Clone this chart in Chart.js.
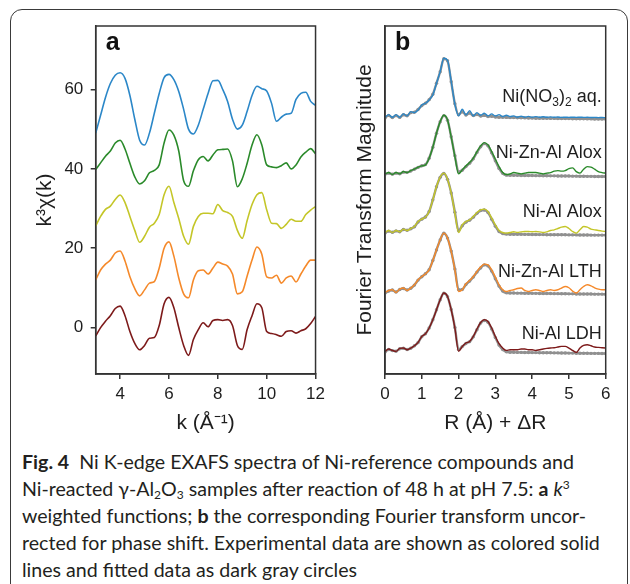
<!DOCTYPE html>
<html>
<head>
<meta charset="utf-8">
<script src="https://cdn.jsdelivr.net/npm/chart.js@4.4.1/dist/chart.umd.min.js"></script>
<style>
  html, body { margin: 0; padding: 0; background: #fff; }
  body { width: 630px; height: 584px; position: relative; overflow: hidden; }
  #frame { position: absolute; left: 10px; top: 9px; width: 618px; height: 640px;
           border: 1px solid #3a3a3a; border-radius: 12px; box-sizing: border-box; }
  #wrapA { position: absolute; left: 29px; top: 0; }
  #wrapB { position: absolute; left: 349px; top: 0; }
  #caption { position: absolute; left: 22px; top: 448px; white-space: nowrap;
             font-family: Lato, "Open Sans", sans-serif; font-size: 19.6px; line-height: 27px;
             color: #231f20; }
  #caption b { font-weight: 700; }
  #caption sub { font-size: 12px; vertical-align: -3px; line-height: 0; }
  #caption sup { font-size: 12px; vertical-align: 7px; line-height: 0; }
</style>
</head>
<body>
<div id="frame"></div>
<div id="wrapA"><canvas id="chartA" width="301" height="440"></canvas></div>
<div id="wrapB"><canvas id="chartB" width="281" height="440"></canvas></div>
<div id="caption">
<b>Fig. 4</b>&nbsp; Ni K-edge EXAFS spectra of Ni-reference compounds and<br>
Ni-reacted γ-Al<sub>2</sub>O<sub>3</sub> samples after reaction of 48 h at pH 7.5: <b>a</b> <i>k</i><sup>3</sup><br>
weighted functions; <b>b</b> the corresponding Fourier transform uncor-<br>
rected for phase shift. Experimental data are shown as colored solid<br>
lines and fitted data as dark gray circles
</div>
<script>
// panel a: k^3 weighted chi(k), curves already offset as in the figure
const kValues = [3.0, 3.2, 3.4, 3.6, 3.8, 4.0, 4.2, 4.4, 4.6, 4.8, 5.0, 5.2, 5.4, 5.6, 5.8, 6.0,
  6.2, 6.4, 6.6, 6.8, 7.0, 7.2, 7.4, 7.6, 7.8, 8.0, 8.2, 8.4, 8.6, 8.8, 9.0, 9.2, 9.4, 9.6,
  9.8, 10.0, 10.2, 10.4, 10.6, 10.8, 11.0, 11.2, 11.4, 11.6, 11.8, 12.0];
const chiNitrate = [49.0, 53.5, 58.0, 61.5, 63.6, 64.2, 62.8, 58.5, 52.5, 47.2, 46.0, 49.0, 54.0, 59.0, 63.0, 63.8,
  62.5, 59.5, 55.0, 50.0, 48.8, 51.0, 55.0, 59.0, 62.2, 62.3, 60.0, 57.0, 52.5, 50.0, 51.0, 54.5, 58.5, 60.8,
  60.2, 59.6, 56.5, 52.0, 53.0, 53.8, 54.0, 57.5, 59.0, 59.3, 57.0, 56.0];
const chiNiZnAlAlox = [39.8, 41.5, 43.2, 44.5, 46.5, 47.2, 45.0, 41.4, 38.0, 36.2, 37.0, 39.0, 39.6, 41.0, 46.5, 49.8,
  48.5, 44.5, 37.0, 35.6, 39.5, 42.3, 43.1, 42.0, 43.5, 44.8, 44.9, 45.0, 42.0, 35.5, 37.5, 41.4, 46.0, 48.6,
  46.0, 41.0, 40.5, 40.3, 40.8, 41.5, 40.0, 41.0, 43.0, 44.2, 45.1, 43.8];
const chiNiAlAlox = [25.6, 28.0, 29.8, 30.6, 32.3, 33.4, 31.5, 28.0, 24.5, 21.5, 23.0, 25.3, 26.3, 28.5, 33.5, 35.6,
  31.5, 27.5, 23.0, 21.0, 25.5, 28.0, 28.8, 28.8, 28.7, 31.0, 29.5, 29.0, 28.0, 24.5, 22.5, 27.0, 31.0, 33.5,
  34.0, 29.7, 26.3, 26.2, 25.0, 26.0, 27.3, 26.8, 26.8, 28.5, 29.6, 30.5];
const chiNiZnAlLTH = [12.0, 14.5, 16.0, 17.0, 18.8, 19.3, 16.8, 12.8, 9.8, 8.0, 9.5, 11.2, 11.6, 15.0, 20.0, 21.6,
  18.0, 12.5, 8.5, 7.5, 12.0, 14.3, 14.5, 13.5, 15.0, 16.5, 16.0, 15.5, 13.5, 8.5, 9.0, 13.0, 17.0, 20.3,
  18.5, 12.8, 12.5, 13.2, 11.2, 12.5, 13.0, 11.5, 13.5, 15.5, 17.0, 17.0];
const chiNiAlLDH = [-2.1, 0.0, 1.6, 3.0, 4.8, 5.4, 3.0, -1.0, -4.0, -5.6, -4.5, -2.7, -2.5, 0.5, 6.0, 7.6,
  5.0, 0.0, -4.5, -7.0, -3.0, -0.5, 1.2, 0.2, 1.8, 2.0, 1.8, 2.0, 0.5, -4.5, -5.5, -0.5, 3.0, 6.0,
  5.0, -1.0, -1.5, -1.8, -2.2, -1.0, -0.8, -1.4, -0.8, -0.3, 1.0, 2.8];
const kTicks = [4, 6, 8, 10, 12];
const chiTicks = [0, 20, 40, 60];

// panel b: Fourier transform magnitude (arbitrary units, stacked), experiment and fit
const rValues = [0.0, 0.1, 0.2, 0.3, 0.4, 0.5, 0.6, 0.7, 0.8, 0.9, 1.0, 1.1, 1.2, 1.3, 1.4, 1.5, 1.6, 1.7, 1.8, 1.9,
  2.0, 2.1, 2.2, 2.3, 2.4, 2.5, 2.6, 2.7, 2.8, 2.9, 3.0, 3.1, 3.2, 3.3, 3.4, 3.5, 3.6, 3.7, 3.8, 3.9,
  4.0, 4.1, 4.2, 4.3, 4.4, 4.5, 4.6, 4.7, 4.8, 4.9, 5.0, 5.1, 5.2, 5.3, 5.4, 5.5, 5.6, 5.7, 5.8, 5.9, 6.0];
const ftNitrate = [257, 259.6, 257, 259.6, 257, 260.3, 258.3, 262.6, 261.6, 264.3,
  269.3, 271, 274.3, 279.3, 291, 302.6, 316, 314, 293, 270,
  258.3, 265, 259.3, 263.6, 258.3, 261.6, 259, 261, 258.3, 260.3,
  258.3, 259.6, 257.6, 259, 257.6, 258.3, 257, 258, 257, 257.8,
  257, 257.6, 257, 257.4, 257, 257.3, 257, 257.2, 256.8, 257,
  256.8, 257, 256.8, 257, 256.8, 256.9, 256.7, 256.8, 256.6, 256.7, 256.6];
const fitNitrate = [256.3, 258.8, 256.6, 258.6, 256.8, 259.4, 258.4, 261.6, 262, 264.8,
  268.6, 271, 274.6, 280, 291, 302.5, 315.5, 313.5, 292.5, 270.5,
  259.5, 262.5, 259.2, 261.2, 258.6, 259.6, 258.2, 258.8, 257.6, 258,
  257.2, 257, 256.9, 256.8, 256.7, 256.6, 256.5, 256.4, 256.3, 256.2,
  256.1, 256, 256, 255.9, 255.9, 255.8, 255.8, 255.7, 255.7, 255.6,
  255.6, 255.5, 255.5, 255.4, 255.4, 255.3, 255.3, 255.2, 255.2, 255.1, 255.1];
const ftNiZnAlAlox = [200.3, 201.6, 199.6, 201.6, 200.3, 202.6, 201.6, 203.6, 205, 207,
  208.3, 209.3, 216, 227, 241, 252.6, 259, 254.3, 237, 217.6,
  200.3, 204.3, 208.3, 211.6, 216, 222.6, 228.3, 231.6, 229.3, 222.6,
  215, 207.6, 201.6, 199.6, 200.3, 201.6, 201, 200.3, 201, 201.6,
  201.6, 201.6, 201, 200.3, 201, 201.6, 203, 203.6, 203, 203.6,
  205.6, 206.3, 202.6, 201, 205, 207.6, 207, 205, 202.6, 201.6, 201];
const fitNiZnAlAlox = [199.8, 201.0, 200.0, 201.0, 200.4, 202.0, 201.8, 203.2, 205.0, 206.8,
  208.4, 209.6, 216.0, 227.0, 241.0, 252.4, 258.6, 254.0, 237.4, 218.4,
  202.4, 204.0, 207.6, 211.0, 215.4, 221.8, 227.4, 230.6, 228.4, 221.4,
  213.4, 205.8, 200.8, 199.0, 198.8, 198.9, 198.8, 198.7, 198.7, 198.6,
  198.6, 198.5, 198.5, 198.4, 198.4, 198.3, 198.3, 198.2, 198.2, 198.1,
  198.1, 198.0, 198.0, 197.9, 197.9, 197.8, 197.8, 197.7, 197.7, 197.6, 197.6];
const ftNiAlAlox = [141.6, 143.6, 141.6, 143.6, 142.3, 145, 143.6, 145.6, 147.6, 152.6,
  155, 157, 162.6, 174.3, 187.6, 197, 201, 195, 181, 161,
  141.6, 149.3, 152.6, 154.3, 157.6, 161.6, 164.3, 165, 162.6, 156,
  149.3, 143.6, 141.6, 141, 141.6, 142.3, 141.6, 142.3, 142.6, 142.6,
  142.3, 142.6, 142.3, 141.6, 142.3, 143.6, 144.3, 145.6, 147, 147.6,
  145.6, 142.6, 141, 144.3, 147.6, 147, 145, 144.3, 143.6, 143, 142.6];
const fitNiAlAlox = [141.0, 143.0, 141.8, 143.2, 142.4, 144.6, 143.8, 145.4, 147.4, 152.2,
  155.0, 157.2, 162.6, 174.3, 187.4, 196.8, 200.6, 194.8, 181.2, 162.0,
  143.4, 148.4, 152.0, 154.0, 157.0, 160.8, 163.6, 164.2, 161.6, 155.0,
  148.0, 142.6, 140.6, 140.0, 139.9, 139.9, 139.8, 139.8, 139.7, 139.7,
  139.6, 139.6, 139.5, 139.5, 139.4, 139.4, 139.4, 139.3, 139.3, 139.3,
  139.2, 139.2, 139.2, 139.1, 139.1, 139.1, 139.0, 139.0, 139.0, 139.0, 139.0];
const ftNiZnAlLTH = [81.6, 83.6, 84.3, 81.6, 85, 86, 83.6, 86, 89.3, 94.3,
  97.6, 100.3, 104.3, 113.6, 124.3, 134.3, 141, 136, 122.6, 104.3,
  82.6, 84.3, 90.3, 93.6, 97.6, 102.6, 107, 110, 109.3, 104.3,
  97, 89.3, 84.3, 82.6, 83.6, 84.3, 85.6, 86, 83.6, 82.6,
  83.6, 84.3, 83.6, 82.6, 83.6, 84.3, 83.6, 84.3, 86, 87.6,
  86.3, 83, 81, 84.3, 87.6, 89.3, 88.3, 86.3, 85, 84.3, 84.3];
const fitNiZnAlLTH = [81.0, 83.0, 84.0, 82.0, 84.6, 85.6, 84.0, 85.8, 89.0, 94.0,
  97.4, 100.4, 104.4, 113.6, 124.2, 134.2, 140.8, 136.0, 123.0, 105.0,
  84.4, 84.6, 89.6, 93.0, 97.0, 102.0, 106.2, 109.2, 108.2, 103.0,
  95.4, 88.0, 83.0, 81.2, 81.0, 81.0, 80.9, 80.9, 80.8, 80.8,
  80.7, 80.7, 80.6, 80.6, 80.5, 80.5, 80.4, 80.4, 80.3, 80.3,
  80.2, 80.2, 80.1, 80.1, 80.0, 80.0, 80.0, 79.9, 79.9, 79.9, 79.8];
const ftNiAlLDH = [22.6, 25, 23.6, 22.6, 25.6, 26, 24.3, 26, 28.3, 31.6,
  37.6, 40.3, 46, 54.3, 64.3, 74.3, 81, 77.6, 64.3, 46,
  22.6, 27.6, 31, 32.6, 37.6, 45, 51.6, 54.3, 52.6, 46,
  37.6, 30.3, 26, 23.6, 24.3, 24.3, 24.3, 25, 25, 24.3,
  24.3, 23.6, 24.3, 25, 25.6, 26, 26.3, 27, 27.6, 27.6,
  26, 23.6, 21.6, 26, 28.6, 29.3, 28.3, 27, 26.6, 26.3, 26];
const fitNiAlLDH = [22.0, 24.5, 23.4, 22.8, 25.2, 25.8, 24.5, 25.8, 28.2, 31.5,
  37.4, 40.3, 46.0, 54.3, 64.3, 74.3, 80.8, 77.4, 64.5, 46.6,
  24.4, 27.4, 30.6, 32.4, 37.2, 44.4, 51.0, 53.6, 51.8, 45.0,
  36.5, 29.0, 24.5, 22.2, 21.8, 21.7, 21.6, 21.6, 21.5, 21.5,
  21.4, 21.4, 21.3, 21.3, 21.2, 21.2, 21.1, 21.1, 21.0, 21.0,
  20.9, 20.9, 20.8, 20.8, 20.7, 20.7, 20.6, 20.6, 20.6, 20.5, 20.5];
const rTicks = [0, 1, 2, 3, 4, 5, 6];

const sampleNames = ["Ni(NO3)2 aq.", "Ni-Zn-Al Alox", "Ni-Al Alox", "Ni-Zn-Al LTH", "Ni-Al LDH"];
const colors = ["#2b87c8", "#2a8a2a", "#c4c628", "#f5892a", "#7d1a1a"];
const fitColor = "#909090";

const FONT = "'Liberation Sans', Arial, sans-serif";
const INK = "#1e1e1e";
Chart.defaults.font.family = FONT;
Chart.defaults.color = INK;

function pts(xs, ys) {
  return xs.map((x, i) => ({ x: x, y: ys[i] }));
}

// frame around the plot area + panel letter
function boxPlugin(letter) {
  return {
    id: "box" + letter,
    afterDraw(chart) {
      const a = chart.chartArea, ctx = chart.ctx;
      ctx.save();
      ctx.strokeStyle = "#333";
      ctx.lineWidth = 1.5;
      ctx.strokeRect(a.left, a.top, a.right - a.left, a.bottom - a.top);
      ctx.fillStyle = "#111";
      ctx.font = "bold 25px " + FONT;
      ctx.textBaseline = "alphabetic";
      ctx.fillText(letter, a.left + 10, a.top + 24);
      ctx.restore();
    }
  };
}

// draws text with subscript digits, right aligned
function drawRich(ctx, parts, right, y, size) {
  const big = size + "px " + FONT, small = Math.round(size * 0.65) + "px " + FONT;
  let w = 0;
  parts.forEach(p => { ctx.font = p.sub ? small : big; w += ctx.measureText(p.t).width; });
  let x = right - w;
  parts.forEach(p => {
    ctx.font = p.sub ? small : big;
    ctx.fillText(p.t, x, p.sub ? y + size * 0.3 : y);
    x += ctx.measureText(p.t).width;
  });
}

const labelPlugin = {
  id: "labels",
  afterDraw(chart) {
    const ctx = chart.ctx, a = chart.chartArea, ys = chart.scales.y;
    const at = [277, 221, 162, 102, 40];
    ctx.save();
    ctx.fillStyle = INK;
    ctx.textBaseline = "middle";
    sampleNames.forEach((name, i) => {
      let parts = [{ t: name }];
      if (i === 0) parts = [{ t: "Ni(NO" }, { t: "3", sub: true }, { t: ")" }, { t: "2", sub: true }, { t: " aq." }];
      drawRich(ctx, parts, a.right - 4, ys.getPixelForValue(at[i]), 18);
    });
    ctx.restore();
  }
};

function axisCommon(ticksArr) {
  return {
    type: "linear",
    afterBuildTicks: s => { s.ticks = ticksArr.map(v => ({ value: v })); },
    grid: { drawOnChartArea: false, drawTicks: true, tickLength: 5, color: "#333", lineWidth: 1.5 },
    border: { display: true, color: "#333", width: 1.5 },
    ticks: { font: { size: 17 }, color: INK, maxRotation: 0, autoSkip: false }
  };
}

const chiSeries = [chiNitrate, chiNiZnAlAlox, chiNiAlAlox, chiNiZnAlLTH, chiNiAlLDH];

new Chart(document.getElementById("chartA"), {
  type: "line",
  data: {
    datasets: chiSeries.map((s, i) => ({
      data: pts(kValues, s),
      borderColor: colors[i],
      borderWidth: 1.6,
      pointRadius: 0,
      cubicInterpolationMode: "monotone",
      fill: false
    }))
  },
  options: {
    responsive: false,
    animation: false,
    devicePixelRatio: 1,
    layout: { padding: { top: 26, right: 14.3, left: 0, bottom: 0 } },
    plugins: { legend: { display: false }, tooltip: { enabled: false } },
    scales: {
      x: Object.assign(axisCommon(kTicks), {
        min: 3, max: 12,
        afterFit: s => { s.height = 66; },
        title: { display: true, text: "k (Å⁻¹)", font: { size: 21 }, color: INK, padding: { top: 4, bottom: 4 } }
      }),
      y: Object.assign(axisCommon(chiTicks), {
        min: -11.7, max: 76,
        afterFit: s => { s.width = 66.7; },
        title: { display: true, text: "k³χ(k)", font: { size: 21 }, color: INK, padding: { top: 4, bottom: 4 } }
      })
    }
  },
  plugins: [boxPlugin("a")]
});
Chart.getChart("chartA").options.scales.x.ticks.padding = 5;
Chart.getChart("chartA").options.scales.y.ticks.padding = 7.4;
Chart.getChart("chartA").update();

const ftSeries = [ftNitrate, ftNiZnAlAlox, ftNiAlAlox, ftNiZnAlLTH, ftNiAlLDH];
const fitSeries = [fitNitrate, fitNiZnAlAlox, fitNiAlAlox, fitNiZnAlLTH, fitNiAlLDH];

const ftSets = ftSeries.map((s, i) => ({
  data: pts(rValues, s),
  borderColor: colors[i],
  borderWidth: 1.4,
  pointRadius: 0,
  cubicInterpolationMode: "monotone",
  order: 0
}));
const fitSets = fitSeries.map(s => ({
  data: pts(rValues, s),
  borderColor: fitColor,
  borderWidth: 2.4,
  pointRadius: 1.7,
  pointBorderWidth: 0,
  pointBackgroundColor: fitColor,
  cubicInterpolationMode: "monotone",
  order: 1
}));

new Chart(document.getElementById("chartB"), {
  type: "line",
  data: { datasets: ftSets.concat(fitSets) },
  options: {
    responsive: false,
    animation: false,
    devicePixelRatio: 1,
    layout: { padding: { top: 26, right: 24.3, left: 0, bottom: 0 } },
    plugins: { legend: { display: false }, tooltip: { enabled: false } },
    scales: {
      x: Object.assign(axisCommon(rTicks), {
        min: 0, max: 6,
        afterFit: s => { s.height = 66; },
        title: { display: true, text: "R (Å) + ΔR", font: { size: 21 }, color: INK, padding: { top: 4, bottom: 4 } }
      }),
      y: {
        type: "linear", min: 0, max: 348.3,
        afterFit: s => { s.width = 36; },
        grid: { display: false },
        border: { display: true, color: "#333", width: 1.5 },
        ticks: { display: false },
        title: { display: true, text: "Fourier Transform Magnitude", font: { size: 21 }, color: INK, padding: { top: 4, bottom: 4 } }
      }
    }
  },
  plugins: [boxPlugin("b"), labelPlugin]
});
Chart.getChart("chartB").options.scales.x.ticks.padding = 5;
Chart.getChart("chartB").update();
</script>
</body>
</html>
